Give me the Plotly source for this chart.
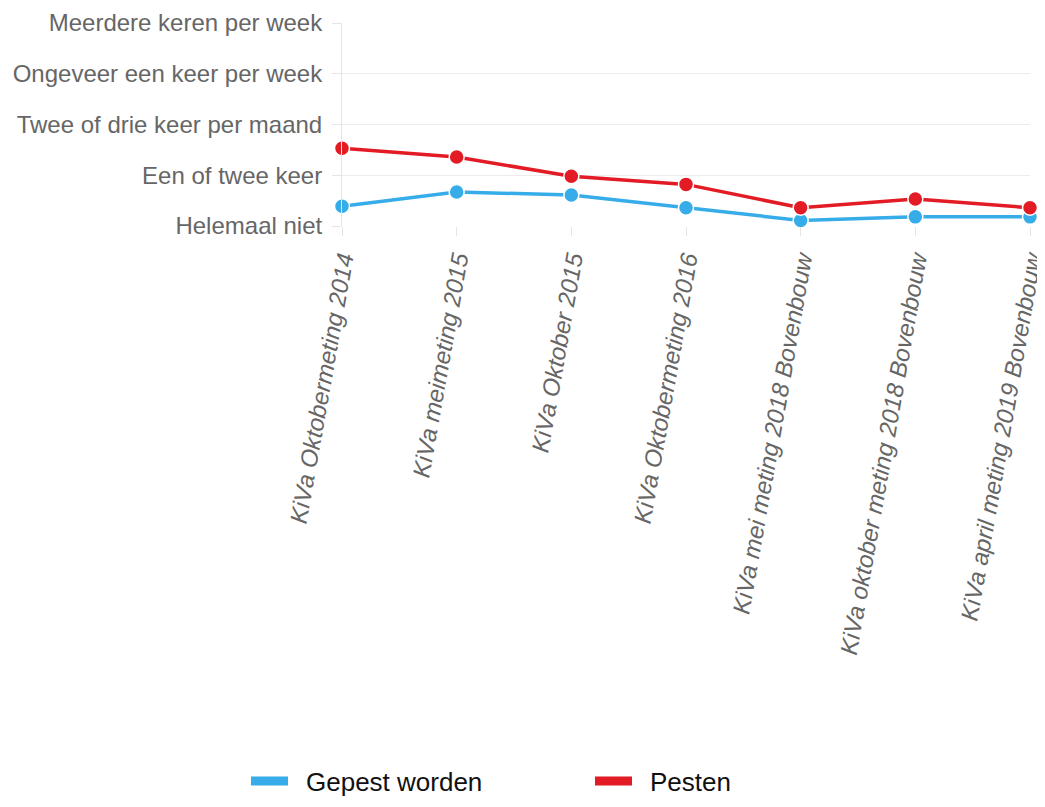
import plotly.graph_objects as go

categories = [
    "KiVa Oktobermeting 2014",
    "KiVa meimeting 2015",
    "KiVa Oktober 2015",
    "KiVa Oktobermeting 2016",
    "KiVa mei meting 2018 Bovenbouw",
    "KiVa oktober meting 2018 Bovenbouw",
    "KiVa april meting 2019 Bovenbouw",
]
gepest_worden = [1.39, 1.67, 1.61, 1.36, 1.11, 1.18, 1.18]
pesten = [2.53, 2.36, 1.98, 1.82, 1.36, 1.53, 1.36]
series_names = ["Gepest worden", "Pesten"]
y_tick_values = [1, 2, 3, 4, 5]
y_tick_labels = [
    "Helemaal niet",
    "Een of twee keer",
    "Twee of drie keer per maand",
    "Ongeveer een keer per week",
    "Meerdere keren per week",
]

BLUE = "#36ace8"
RED = "#e21b24"
FONT = "Liberation Sans, Arial, sans-serif"

W, H = 1037, 799  # page body has an 8px margin

fig = go.Figure()
for name, vals, col in [(series_names[0], gepest_worden, BLUE), (series_names[1], pesten, RED)]:
    fig.add_trace(go.Scatter(
        x=categories, y=vals, mode="lines+markers", name=name,
        line=dict(color=col, width=3.5),
        marker=dict(color=col, size=15, line=dict(color="white", width=1.5)),
        cliponaxis=False, showlegend=False,
    ))
for name, col in [(series_names[0], BLUE), (series_names[1], RED)]:
    fig.add_trace(go.Scatter(
        x=[None], y=[None], mode="lines", name="\u2002" + name,
        line=dict(color=col, width=9), showlegend=True,
    ))

fig.update_layout(
    width=W, height=H,
    margin=dict(l=334, r=15, t=15, b=581, autoexpand=False),
    paper_bgcolor="white", plot_bgcolor="white",
    font=dict(family=FONT, size=24, color="#666666"),
    xaxis=dict(
        type="category", categoryorder="array", categoryarray=categories,
        range=[0, 6], showgrid=False, zeroline=False, automargin=False,
        showline=False, ticks="outside", ticklen=9, tickcolor="#e5e5e5", tickwidth=1,
        tickangle=-80,
        tickfont=dict(family=FONT, size=24, color="#666666", style="italic"),
    ),
    yaxis=dict(
        range=[1, 5], tickvals=y_tick_values, ticktext=y_tick_labels,
        showgrid=True, gridcolor="#ececec", gridwidth=1, zeroline=False,
        showline=True, linecolor="#e5e5e5", linewidth=1, automargin=False,
        ticks="outside", ticklen=9, tickcolor="#e5e5e5", ticklabelstandoff=5,
        tickfont=dict(family=FONT, size=24, color="#666666"),
    ),
    legend=dict(
        orientation="h", x=(246 - 8) / W, xanchor="left", xref="container",
        y=(807 - 781) / H, yanchor="middle", yref="container",
        font=dict(family=FONT, size=26, color="#111111"),
        entrywidth=292, entrywidthmode="pixels", itemwidth=37,
        bgcolor="rgba(0,0,0,0)",
    ),
)

fig.write_html("out.html")
